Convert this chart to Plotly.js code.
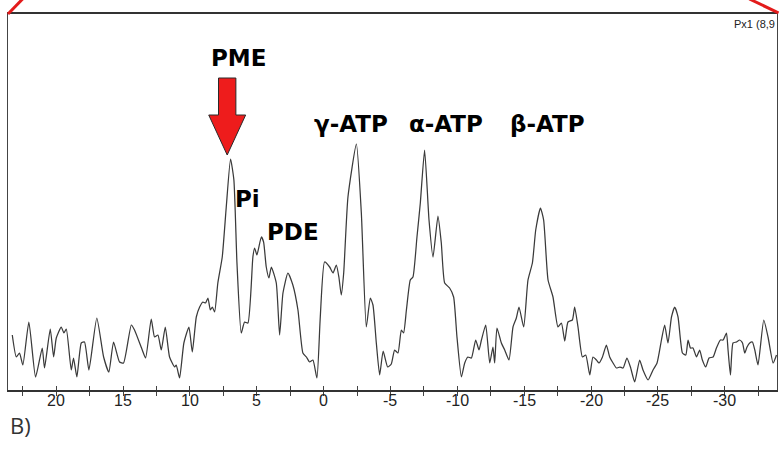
<!DOCTYPE html>
<html>
<head>
<meta charset="utf-8">
<script src="https://cdn.plot.ly/plotly-3.0.1.min.js"></script>
<style>
  html, body { margin: 0; padding: 0; background: #fff; }
  #chart { width: 779px; height: 452px; }
</style>
</head>
<body>
<div id="chart"></div>
<script>
// 31P spectrum: chemical shift (ppm) and signal intensity (arbitrary units)
const shiftPpm = [
  23.28, 22.98, 22.74, 22.49, 22.04, 21.54, 21.04, 20.87, 20.44, 20.19,
  19.99, 19.62, 19.42, 19.24, 18.87, 18.70, 18.45, 18.12, 17.88, 17.55,
  16.96, 16.45, 16.06, 15.71, 15.26, 14.96, 14.38, 14.14, 13.56, 13.31,
  12.89, 12.64, 12.39, 12.14, 11.84, 11.52, 11.14, 11.02, 10.77, 10.45,
  10.07, 9.82, 9.52, 9.27, 9.03, 8.83, 8.65, 8.47, 8.32, 8.15,
  7.91, 7.58, 7.28, 6.96, 6.71, 6.48, 6.16, 5.91, 5.66, 5.29,
  5.16, 4.99, 4.66, 4.49, 4.29, 4.09, 3.91, 3.54, 3.29, 3.04,
  2.67, 2.30, 1.92, 1.55, 1.29, 1.05, 0.80, 0.50, 0.25, -0.07,
  -0.45, -0.70, -0.95, -1.14, -1.32, -1.50, -1.82, -2.45, -2.82, -3.19,
  -3.49, -3.69, -3.94, -4.19, -4.45, -4.79, -5.06, -5.31, -5.56, -5.81,
  -5.98, -6.19, -6.48, -6.68, -6.98, -7.23, -7.55, -7.88, -8.18, -8.55,
  -8.80, -9.05, -9.42, -9.72, -9.97, -10.30, -10.55, -10.79, -11.05, -11.37,
  -11.62, -11.80, -12.12, -12.42, -12.66, -12.79, -12.96, -13.29, -13.54, -13.86,
  -14.16, -14.41, -14.61, -14.96, -15.28, -15.61, -15.86, -16.21, -16.45, -16.78,
  -17.15, -17.52, -17.78, -18.03, -18.27, -18.60, -18.77, -19.02, -19.35, -19.60,
  -19.90, -20.14, -20.40, -20.59, -20.85, -21.14, -21.39, -21.64, -21.89, -22.14,
  -22.39, -22.68, -22.94, -23.26, -23.63, -23.88, -24.26, -24.63, -24.93, -25.26,
  -25.50, -25.75, -26.01, -26.25, -26.50, -26.83, -27.08, -27.25, -27.43, -27.62,
  -27.88, -28.12, -28.32, -28.57, -28.82, -29.12, -29.37, -29.67, -29.87, -30.12,
  -30.24, -30.42, -30.61, -30.87, -31.11, -31.32, -31.49, -31.66, -31.86, -32.06,
  -32.24, -32.48, -32.91, -33.23, -33.61, -33.86
];
const intensity = [
  55, 33, 37, 25, 68, 13, 42, 22, 61, 33,
  52, 63, 57, 61, 20, 32, 13, 47, 48, 20,
  72, 33, 18, 48, 28, 27, 65, 60, 40, 32,
  71, 53, 55, 40, 63, 33, 23, 25, 12, 47,
  63, 38, 73, 83, 88, 87, 92, 80, 83, 78,
  107, 133, 183, 231, 210, 127, 57, 68, 67, 133,
  142, 135, 153, 148, 123, 112, 123, 107, 55, 97,
  117, 105, 80, 37, 33, 28, 30, 12, 73, 128,
  123, 117, 125, 113, 95, 117, 193, 246, 177, 63,
  92, 85, 47, 15, 39, 23, 26, 40, 37, 60,
  57, 80, 110, 113, 153, 187, 240, 170, 133, 174,
  147, 107, 102, 93, 53, 13, 27, 33, 32, 50,
  40, 50, 65, 27, 43, 27, 62, 47, 40, 30,
  63, 72, 83, 63, 110, 127, 160, 182, 170, 110,
  93, 63, 67, 49, 68, 70, 83, 63, 33, 35,
  15, 33, 30, 27, 33, 45, 33, 27, 22, 23,
  22, 32, 23, 8, 30, 20, 10, 20, 27, 50,
  65, 47, 73, 83, 73, 37, 35, 50, 42, 42,
  33, 40, 30, 23, 32, 33, 42, 50, 50, 57,
  40, 15, 47, 48, 50, 47, 37, 43, 47, 48,
  40, 25, 70, 53, 27, 35
];

// Peak labels and where they sit (ppm, intensity)
const peakNames = ['PME', 'Pi', 'PDE', 'γ-ATP', 'α-ATP', 'β-ATP'];
const labelPpm = [6.36, 5.72, 2.32, -2.02, -9.12, -16.75];
const labelLevel = [332, 191, 158.5, 266.5, 266.5, 266.5];

// Chemical-shift axis ticks
const tickVals = [20, 15, 10, 5, 0, -5, -10, -15, -20, -25, -30];
const tickLabels = ['20', '15', '10', '5', '0', '-5', '-10', '-15', '-20', '-25', '-30'];

// Locate the PME peak so the arrow points at it
let pmeIdx = 0;
shiftPpm.forEach((p, i) => {
  if (p > 6 && p < 8 && intensity[i] > intensity[pmeIdx]) pmeIdx = i;
});
const tipX = shiftPpm[pmeIdx] + 0.25;
const tipY = intensity[pmeIdx] + 4;
const headHalf = 1.38, shaftHalf = 0.65, headLen = 40, shaftLen = 37;
const arrowPts = [
  [tipX, tipY],
  [tipX + headHalf, tipY + headLen],
  [tipX + shaftHalf, tipY + headLen],
  [tipX + shaftHalf, tipY + headLen + shaftLen],
  [tipX - shaftHalf, tipY + headLen + shaftLen],
  [tipX - shaftHalf, tipY + headLen],
  [tipX - headHalf, tipY + headLen]
];
const arrowPath = arrowPts.map((p, i) => (i ? 'L' : 'M') + p[0] + ',' + p[1]).join(' ') + ' Z';

const spectrum = {
  x: shiftPpm,
  y: intensity,
  type: 'scatter',
  mode: 'lines',
  line: { color: '#3a3a3a', width: 1.25, shape: 'spline', smoothing: 0.5 },
  hoverinfo: 'x+y',
  showlegend: false
};

const labelFont = { family: 'DejaVu Sans, Liberation Sans, sans-serif', size: 23, color: '#000', weight: 'bold' };
const tickFont = { family: 'Liberation Sans, sans-serif', size: 16, color: '#222' };

const annotations = peakNames.map((name, i) => ({
  x: labelPpm[i], y: labelLevel[i], xref: 'x', yref: 'y',
  text: '<b>' + name + '</b>', showarrow: false,
  xanchor: 'center', yanchor: 'middle', font: labelFont
}));

// tick labels set just under the axis line
tickVals.forEach((v, i) => {
  annotations.push({
    x: v, y: -0.029, xref: 'x', yref: 'paper',
    text: tickLabels[i], showarrow: false,
    xanchor: 'center', yanchor: 'middle', font: tickFont
  });
});

annotations.push({
  x: 1.0, y: 0.9734, xref: 'paper', yref: 'paper',
  text: 'Px1 (8,9', showarrow: false, xanchor: 'right', yanchor: 'middle',
  font: { family: 'Liberation Sans, sans-serif', size: 11, color: '#222' }
});
annotations.push({
  x: 0, y: -0.093, xref: 'paper', yref: 'paper',
  text: 'B)', showarrow: false, xanchor: 'left', yanchor: 'middle',
  font: { family: 'Open Sans, Noto Sans, sans-serif', size: 22, color: '#333' }
});

const shapes = [
  {
    type: 'path', xref: 'x', yref: 'y', path: arrowPath,
    fillcolor: '#ee1c1c', line: { color: '#2a2a2a', width: 1 }
  },
  // red corner strokes running off the top of the frame
  { type: 'line', xref: 'paper', yref: 'paper', x0: 0, y0: 1, x1: 0.019, y1: 1.04,
    line: { color: '#e31b1b', width: 3 } },
  { type: 'line', xref: 'paper', yref: 'paper', x0: 0.964, y0: 1.04, x1: 1.002, y1: 1.003,
    line: { color: '#e31b1b', width: 3 } }
];

const layout = {
  width: 779,
  height: 452,
  margin: { l: 8, r: 2, t: 14, b: 62 },
  paper_bgcolor: '#fff',
  plot_bgcolor: '#fff',
  // lower half of each tick, drawn below the axis line
  xaxis: {
    range: [23.6, -33.9],
    tickmode: 'array',
    tickvals: tickVals,
    ticks: 'outside', ticklen: 4, tickcolor: '#444', tickwidth: 1,
    minor: { dtick: 2.5, tick0: 0, ticks: 'outside', ticklen: 4, tickcolor: '#444', showgrid: false },
    showticklabels: false,
    showgrid: false, zeroline: false,
    showline: true, linecolor: '#333', linewidth: 1.5, mirror: true
  },
  // upper half of each tick, inside the frame
  xaxis2: {
    overlaying: 'x', matches: 'x', anchor: 'y', side: 'bottom',
    range: [23.6, -33.9],
    tickmode: 'array', tickvals: tickVals,
    ticks: 'inside', ticklen: 4, tickcolor: '#444',
    minor: { dtick: 2.5, tick0: 0, ticks: 'inside', ticklen: 4, tickcolor: '#444', showgrid: false },
    showticklabels: false,
    showgrid: false, zeroline: false, showline: false
  },
  yaxis: {
    range: [0, 376],
    showgrid: false, zeroline: false, showticklabels: false, ticks: '',
    showline: true, linecolor: '#444', linewidth: 1.2, mirror: true
  },
  annotations: annotations,
  shapes: shapes
};

const ghost = { x: [0], y: [0], xaxis: 'x2', yaxis: 'y', mode: 'none', type: 'scatter', showlegend: false, hoverinfo: 'skip' };

Plotly.newPlot('chart', [spectrum, ghost], layout, { displayModeBar: false, responsive: false });
</script>
</body>
</html>
